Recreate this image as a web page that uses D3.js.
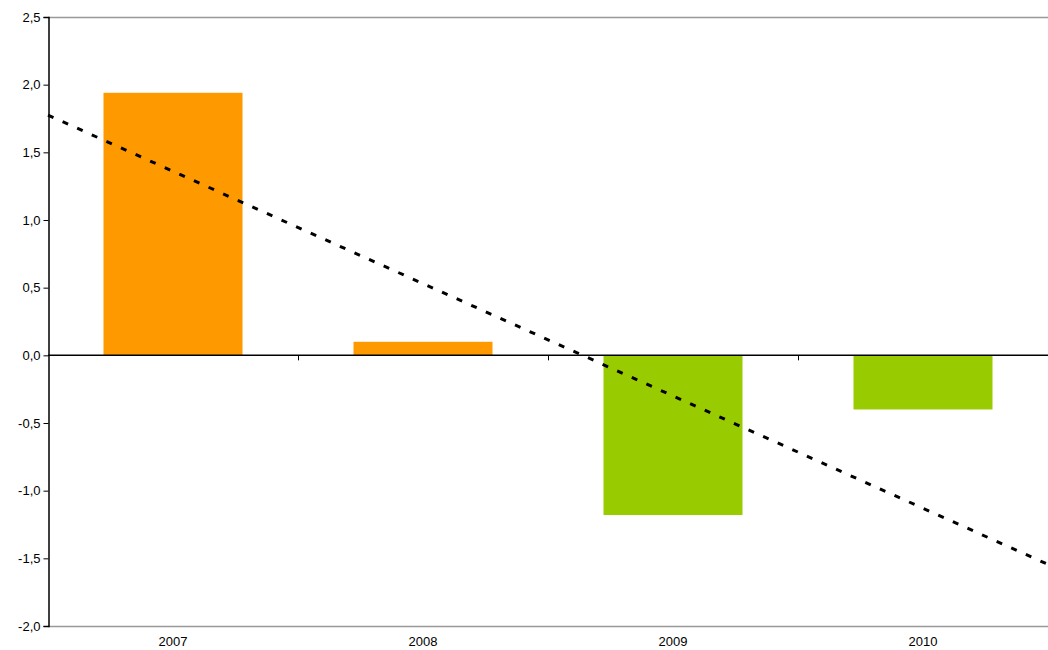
<!DOCTYPE html>
<html><head><meta charset="utf-8">
<script src="https://cdn.jsdelivr.net/npm/d3@7"></script>
<style>body{margin:0;background:#fff}svg{display:block}text{font-family:"Liberation Sans",Arial,sans-serif;font-size:13px;fill:#000}</style>
</head><body><svg id="c" width="1048" height="650"></svg>
<script>
const categories = ["2007","2008","2009","2010"];
const values = [1.94, 0.10, -1.18, -0.40];
const colors = ["#FF9900","#FF9900","#99CC00","#99CC00"];
const yTicks = [2.5,2.0,1.5,1.0,0.5,0.0,-0.5,-1.0,-1.5,-2.0];
const trend = [1.775, -1.545]; // trend line values at left and right plot edges

const svg = d3.select("#c");
const L=48, R=1048, T=17, B=626;
const x = d3.scaleBand().domain(categories).range([L,R]).paddingInner(0.444).paddingOuter(0.222);
const xo = d3.scaleBand().domain(categories).range([L,R]);
const y = d3.scaleLinear().domain([-2,2.5]).range([B,T]);
const fmt = v => d3.format(".1f")(v).replace(".",",").replace("−","-");

// top & bottom border
svg.append("line").attr("x1",L).attr("x2",R).attr("y1",T+0.5).attr("y2",T+0.5).attr("stroke","#999").attr("stroke-width",1.5);
svg.append("line").attr("x1",L).attr("x2",R).attr("y1",B+0.5).attr("y2",B+0.5).attr("stroke","#999").attr("stroke-width",1.5);

svg.selectAll("rect.bar").data(values).join("rect")
  .attr("x",(d,i)=>x(categories[i])).attr("width",x.bandwidth())
  .attr("y",d=>y(Math.max(0,d))).attr("height",d=>Math.abs(y(d)-y(0)))
  .attr("fill",(d,i)=>colors[i]);

// y axis
const ya = d3.axisLeft(y).tickValues(yTicks).tickFormat(fmt).tickSize(5).tickPadding(3);
const gy = svg.append("g").attr("transform",`translate(${L+0.5},0)`).call(ya);
gy.select(".domain").attr("stroke","#000").attr("stroke-width",1.5);
gy.selectAll(".tick line").attr("stroke","#000");
gy.selectAll("text").style("font-family","Liberation Sans, Arial, sans-serif").style("font-size","13px");

// zero axis
svg.append("line").attr("x1",L).attr("x2",R).attr("y1",y(0)).attr("y2",y(0)).attr("stroke","#000").attr("stroke-width",1.5);
svg.selectAll("line.ct").data(categories.slice(1)).join("line")
  .attr("x1",d=>xo(d)+0.5).attr("x2",d=>xo(d)+0.5).attr("y1",y(0)).attr("y2",y(0)+5).attr("stroke","#000");

// category labels
svg.selectAll("text.cl").data(categories).join("text")
  .attr("x",d=>xo(d)+xo.bandwidth()/2).attr("y",646).attr("text-anchor","middle").text(d=>d);

// trend line
svg.append("line").attr("x1",L).attr("x2",R).attr("y1",y(trend[0])).attr("y2",y(trend[1]))
  .attr("stroke","#000").attr("stroke-width",3).attr("stroke-dasharray","6,10");
</script></body></html>
